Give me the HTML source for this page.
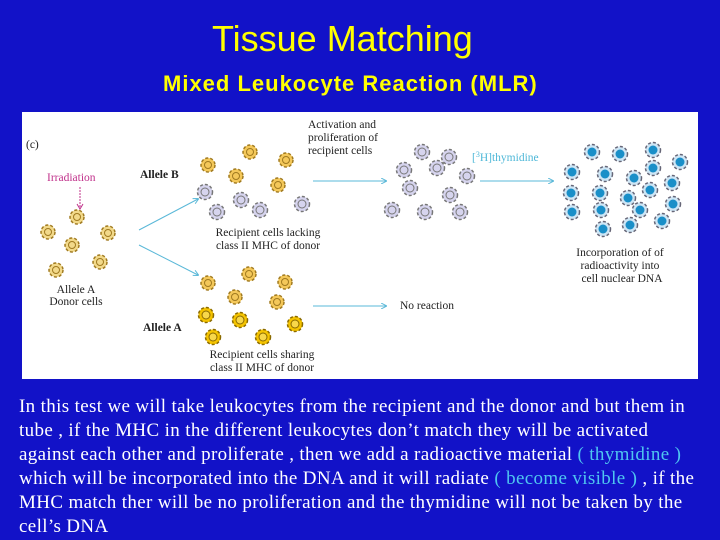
<!DOCTYPE html>
<html><head><meta charset="utf-8"><style>
body{margin:0;width:720px;height:540px;background:#1212c8;overflow:hidden;position:relative;font-family:"Liberation Sans",sans-serif}
.t{position:absolute;white-space:nowrap}
#title{left:212px;top:18px;font-size:36px;color:#ffff00}
#sub{left:163px;top:71px;font-size:22px;font-weight:bold;color:#ffff00;letter-spacing:1px}
#box{position:absolute;left:22px;top:112px;width:676px;height:267px;background:#fff}
#body{position:absolute;left:19px;top:395px;white-space:nowrap;font-family:"Liberation Serif",serif;font-size:19px;letter-spacing:0.35px;line-height:24px;color:#fff}
.c{color:#4fc6f0}
svg text{font-family:"Liberation Serif",serif;font-size:11.5px;fill:#222}
</style></head><body>
<div class="t" id="title">Tissue Matching</div>
<div class="t" id="sub">Mixed Leukocyte Reaction (MLR)</div>
<div id="box"></div>
<svg style="position:absolute;left:0;top:0" width="720" height="540">
<defs>
<g id="d"><circle r="7" fill="#f2d98a" stroke="#a07a20" stroke-width="1.5" stroke-dasharray="3 2"/><circle r="3.5" fill="none" stroke="#a07a20"/></g>
<g id="o"><circle r="7" fill="#f4c85a" stroke="#a07a20" stroke-width="1.5" stroke-dasharray="3 2"/><circle r="3.5" fill="none" stroke="#a07a20"/></g>
<g id="y"><circle r="7.5" fill="#f5c400" stroke="#8a6a00" stroke-width="1.5" stroke-dasharray="3 2"/><circle r="4" fill="#f8d84a" stroke="#8a6a00"/></g>
<g id="l"><circle r="7.5" fill="#d6d4ee" stroke="#777" stroke-width="1.5" stroke-dasharray="3 2"/><circle r="4" fill="none" stroke="#777"/></g>
<g id="b"><circle r="7.5" fill="#cfe6f5" stroke="#667" stroke-width="1.5" stroke-dasharray="3 2"/><circle r="4.5" fill="#1a8fc8"/></g>
<marker id="a" markerWidth="6" markerHeight="6" refX="5" refY="3" orient="auto"><path d="M0,0L6,3L0,6" fill="none" stroke="#5ab8d8"/></marker>
</defs>
<g>
<use href="#d" x="77" y="217"/><use href="#d" x="48" y="232"/><use href="#d" x="108" y="233"/><use href="#d" x="72" y="245"/><use href="#d" x="100" y="262"/><use href="#d" x="56" y="270"/>
<use href="#o" x="250" y="152"/><use href="#o" x="208" y="165"/><use href="#o" x="286" y="160"/><use href="#o" x="236" y="176"/><use href="#o" x="278" y="185"/>
<use href="#l" x="205" y="192"/><use href="#l" x="241" y="200"/><use href="#l" x="302" y="204"/><use href="#l" x="217" y="212"/><use href="#l" x="260" y="210"/>
<use href="#o" x="249" y="274"/><use href="#o" x="208" y="283"/><use href="#o" x="285" y="282"/><use href="#o" x="235" y="297"/><use href="#o" x="277" y="302"/>
<use href="#y" x="206" y="315"/><use href="#y" x="240" y="320"/><use href="#y" x="295" y="324"/><use href="#y" x="213" y="337"/><use href="#y" x="263" y="337"/>
<use href="#l" x="422" y="152"/><use href="#l" x="449" y="157"/><use href="#l" x="404" y="170"/><use href="#l" x="437" y="168"/><use href="#l" x="467" y="176"/><use href="#l" x="410" y="188"/><use href="#l" x="450" y="195"/><use href="#l" x="392" y="210"/><use href="#l" x="425" y="212"/><use href="#l" x="460" y="212"/>
<use href="#b" x="592" y="152"/><use href="#b" x="620" y="154"/><use href="#b" x="653" y="150"/><use href="#b" x="680" y="162"/><use href="#b" x="572" y="172"/><use href="#b" x="605" y="174"/><use href="#b" x="634" y="178"/><use href="#b" x="653" y="168"/><use href="#b" x="672" y="183"/><use href="#b" x="571" y="193"/><use href="#b" x="600" y="193"/><use href="#b" x="628" y="198"/><use href="#b" x="650" y="190"/><use href="#b" x="673" y="204"/><use href="#b" x="572" y="212"/><use href="#b" x="601" y="210"/><use href="#b" x="640" y="210"/><use href="#b" x="662" y="221"/><use href="#b" x="603" y="229"/><use href="#b" x="630" y="225"/>
</g>
<g stroke="#5ab8d8" stroke-width="1" fill="none" marker-end="url(#a)">
<line x1="139" y1="230" x2="198" y2="199"/><line x1="139" y1="245" x2="198" y2="275"/>
<line x1="313" y1="181" x2="386" y2="181"/><line x1="480" y1="181" x2="553" y2="181"/><line x1="313" y1="306" x2="386" y2="306"/>
</g>
<line x1="80" y1="187" x2="80" y2="207" stroke="#c0308a" stroke-dasharray="2 1"/><path d="M77,204L80,209L83,204" fill="none" stroke="#c0308a"/>
<text x="26" y="148">(c)</text>
<text x="47" y="181" style="fill:#c0308a">Irradiation</text>
<text x="140" y="178" style="font-weight:bold">Allele B</text>
<text x="268" y="236" text-anchor="middle">Recipient cells lacking</text>
<text x="268" y="249" text-anchor="middle">class II MHC of donor</text>
<text x="76" y="293" text-anchor="middle">Allele A</text>
<text x="76" y="305" text-anchor="middle">Donor cells</text>
<text x="143" y="331" style="font-weight:bold">Allele A</text>
<text x="262" y="358" text-anchor="middle">Recipient cells sharing</text>
<text x="262" y="371" text-anchor="middle">class II MHC of donor</text>
<text x="308" y="128">Activation and</text>
<text x="308" y="141">proliferation of</text>
<text x="308" y="154">recipient cells</text>
<text x="472" y="161" style="fill:#4fb8d8">[<tspan dy="-4" font-size="8">3</tspan><tspan dy="4">H]thymidine</tspan></text>
<text x="620" y="256" text-anchor="middle">Incorporation of of</text>
<text x="620" y="269" text-anchor="middle">radioactivity into</text>
<text x="622" y="282" text-anchor="middle">cell nuclear DNA</text>
<text x="400" y="309">No reaction</text>
</svg>
<div id="body">In this test we will take leukocytes from the recipient and the donor and but them in<br>tube , if the MHC in the different leukocytes don’t match they will be activated<br>against each other and proliferate , then we add a radioactive material <span class="c">( thymidine )</span><br>which will be incorporated into the DNA and it will radiate <span class="c">( become visible )</span> , if the<br>MHC match ther will be no proliferation and the thymidine will not be taken by the<br>cell’s DNA</div>
</body></html>
